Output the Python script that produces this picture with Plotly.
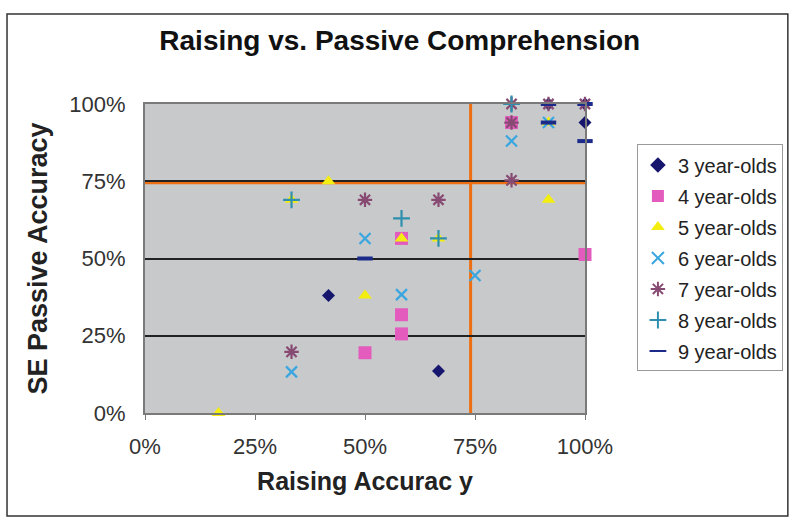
import plotly.graph_objects as go

# Accuracy scores per age group: raising accuracy (x) vs. SE passive accuracy (y)
age_groups = ["3 year-olds", "4 year-olds", "5 year-olds", "6 year-olds",
              "7 year-olds", "8 year-olds", "9 year-olds"]

raising_3 = [0.417, 0.667, 0.917, 1.0, 1.0]
passive_3 = [0.38, 0.136, 1.0, 1.0, 0.94]

raising_4 = [0.5, 0.583, 0.583, 0.583, 0.833, 1.0]
passive_4 = [0.195, 0.256, 0.318, 0.565, 0.94, 0.513]

raising_5 = [0.167, 0.333, 0.417, 0.5, 0.583, 0.667, 0.917, 0.917]
passive_5 = [0.0, 0.69, 0.75, 0.38, 0.565, 0.565, 0.69, 0.94]

raising_6 = [0.333, 0.5, 0.583, 0.75, 0.833, 0.917]
passive_6 = [0.133, 0.565, 0.383, 0.445, 0.88, 0.94]

raising_7 = [0.333, 0.5, 0.667, 0.833, 0.833, 0.833, 0.917, 1.0]
passive_7 = [0.198, 0.69, 0.69, 0.753, 0.94, 1.0, 1.0, 1.0]

raising_8 = [0.333, 0.583, 0.667, 0.833]
passive_8 = [0.69, 0.63, 0.565, 1.0]

raising_9 = [0.5, 0.917, 0.917, 1.0, 1.0]
passive_9 = [0.5, 1.0, 0.94, 1.0, 0.88]

# Cut-off reference lines
raising_cutoff = 0.74
passive_cutoff = 0.745

tick_vals = [0, 0.25, 0.5, 0.75, 1.0]
tick_text = ["0%", "25%", "50%", "75%", "100%"]

series = [
    (raising_3, passive_3, "diamond", "#16166e", 10, 0),
    (raising_4, passive_4, "square", "#e35cbd", 13, 0),
    (raising_5, passive_5, "triangle-up", "#f4ee10", 12, 0),
    (raising_6, passive_6, "x-thin-open", "#3aa6e0", 11, 2.2),
    (raising_7, passive_7, "asterisk-open", "#874a72", 12, 2.2),
    (raising_8, passive_8, "cross-thin-open", "#2f8fae", 12, 2.2),
    (raising_9, passive_9, "line-ew-open", "#1c2a8a", 11, 4),
]

FONT = "Liberation Sans, Arial, sans-serif"

fig = go.Figure()
for name, (xs, ys, sym, col, size, lw) in zip(age_groups, series):
    marker = dict(symbol=sym, color=col, size=size)
    if lw:
        marker["line"] = dict(color=col, width=lw)
    else:
        marker["line"] = dict(width=0)
    fig.add_trace(go.Scatter(
        x=xs, y=ys, mode="markers", name=name, legendgroup=name,
        marker=marker, cliponaxis=False,
    ))

# Orange cut-off lines
fig.add_shape(type="line", xref="x", yref="y", x0=raising_cutoff, x1=raising_cutoff,
              y0=0, y1=1, line=dict(color="#ee6f12", width=3), layer="below")
fig.add_shape(type="line", xref="x", yref="y", x0=0, x1=1,
              y0=passive_cutoff, y1=passive_cutoff,
              line=dict(color="#ee6f12", width=3), layer="below")

# Outer chart frame
fig.add_shape(type="rect", xref="paper", yref="paper",
              x0=-0.3136, x1=1.461, y0=-0.333, y1=1.291,
              line=dict(color="#333333", width=1.5), layer="below")

axis_font = dict(family=FONT, size=22, color="#333333")

fig.update_layout(
    width=790, height=519,
    margin=dict(l=145, r=205, t=104, b=106, autoexpand=False),
    paper_bgcolor="white",
    plot_bgcolor="#c7c9cb",
    title=dict(text="<b>Raising vs. Passive Comprehension</b>",
               x=0.506, xref="container", y=1 - 40 / 519, yref="container",
               xanchor="center", yanchor="middle",
               font=dict(family=FONT, size=28, color="#111111")),
    showlegend=True,
    legend=dict(
        x=1.118, xanchor="left", y=0.869, yanchor="top",
        bgcolor="white", bordercolor="#9a9a9a", borderwidth=1,
        font=dict(family=FONT, size=20, color="#222222"),
        tracegroupgap=2, itemsizing="constant", itemwidth=30,
    ),
    xaxis=dict(
        range=[0, 1], tickvals=tick_vals, ticktext=tick_text,
        showgrid=False, zeroline=False,
        showline=True, linecolor="#7a7a7a", linewidth=2, mirror=True,
        ticks="outside", ticklen=5, tickcolor="#7a7a7a",
        tickfont=axis_font, ticklabelstandoff=8,
        title=dict(text="<b>Raising Accurac y</b>", standoff=14,
                   font=dict(family=FONT, size=25, color="#222222")),
    ),
    yaxis=dict(
        range=[0, 1], tickvals=tick_vals, ticktext=tick_text,
        showgrid=True, gridcolor="#222222", gridwidth=2, zeroline=False,
        showline=True, linecolor="#7a7a7a", linewidth=2, mirror=True,
        ticks="", tickfont=axis_font, ticklabelstandoff=13,
        title=dict(text="<b>SE Passive Accuracy</b>", standoff=14,
                   font=dict(family=FONT, size=27, color="#222222")),
    ),
)

fig.write_html("out.html")
